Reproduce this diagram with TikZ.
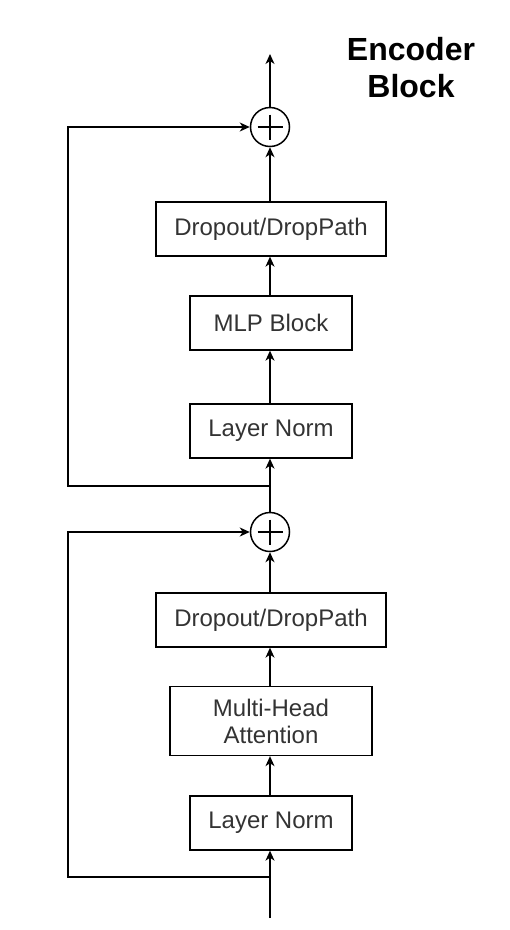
\documentclass[tikz,border=0pt]{standalone}
\usepackage{fontspec}
\setmainfont{Liberation Sans}
\usetikzlibrary{arrows.meta, calc}
\tikzset{
  blk/.style   ={draw, rectangle, minimum height=54pt, inner sep=0pt, line width=1.3pt, text=black!80, font=\fontsize{24}{27}\selectfont, align=center},
  addop/.style ={draw, circle, minimum size=39pt, inner sep=0pt, line width=1.5pt},
  flow/.style  ={-{Stealth[length=10pt, width=9pt, inset=3pt]}, line width=1.3pt}, % main path
  skip/.style  ={-{Stealth[length=10pt, width=9pt, inset=3pt]}, line width=1.3pt}, % residual
  ttl/.style   ={font=\bfseries\fontsize{32}{37}\selectfont, align=center},
}

\begin{document}
\begin{tikzpicture}[x=1pt, y=-1pt]
  \useasboundingbox (0,0) rectangle (510,930);
  % title
  \node[ttl] (title) at (411,68) {Encoder\\Block};
  % upper half: MLP
  \node[addop] (add2) at (270,127) {};
  \draw[line width=1.5pt] ($(add2)+(-12.5,0)$) -- ($(add2)+(12.5,0)$)
                          ($(add2)+(0,-12.5)$) -- ($(add2)+(0,12.5)$);
  \node[blk, minimum width=230pt] (drop2) at (271,229) {Dropout/DropPath};
  \node[blk, minimum width=162pt] (mlp)   at (271,323) {MLP Block};
  \node[blk, minimum width=162pt] (ln2)   at (271,431) {Layer Norm};
  % lower half: attention
  \node[addop] (add1) at (270,532) {};
  \draw[line width=1.5pt] ($(add1)+(-12.5,0)$) -- ($(add1)+(12.5,0)$)
                          ($(add1)+(0,-12.5)$) -- ($(add1)+(0,12.5)$);
  \node[blk, minimum width=230pt] (drop1) at (271,620) {Dropout/DropPath};
  \node[blk, minimum width=202pt, minimum height=69pt] (mha) at (271,721) {Multi-Head\\Attention};
  \node[blk, minimum width=162pt] (ln1)   at (271,823) {Layer Norm};
  \coordinate (out) at (270,54);
  \coordinate (in)  at (270,918);
  \coordinate (br1) at (270,877);
  \coordinate (br2) at (270,486);

  \draw[flow] (in) -- (ln1.south -| in);
  \draw[flow] (ln1.north -| in) -- (mha.south -| in);
  \draw[flow] (mha.north -| in) -- (drop1.south -| in);
  \draw[flow] (drop1.north -| in) -- (add1.south);
  \draw[flow] (add1.north) -- (ln2.south -| in);
  \draw[flow] (ln2.north -| in) -- (mlp.south -| in);
  \draw[flow] (mlp.north -| in) -- (drop2.south -| in);
  \draw[flow] (drop2.north -| in) -- (add2.south);
  \draw[flow] (add2.north) -- (out);
  \draw[skip] (br1) -- (68,877) -- (68,532) -- (add1.west);
  \draw[skip] (br2) -- (68,486) -- (68,127) -- (add2.west);
\end{tikzpicture}
\end{document}
